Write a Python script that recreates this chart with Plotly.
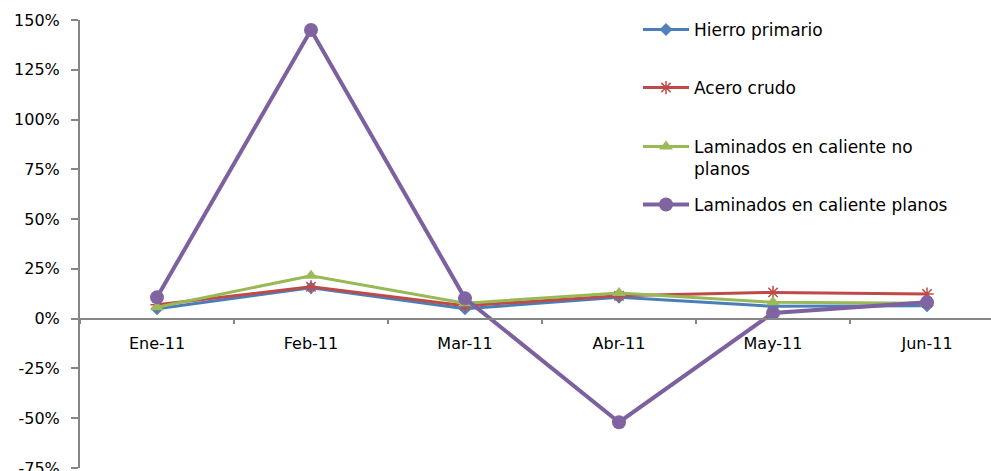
import plotly.graph_objects as go

categories = ["Ene-11", "Feb-11", "Mar-11", "Abr-11", "May-11", "Jun-11"]
hierro_primario = [0.05, 0.155, 0.05, 0.107, 0.062, 0.065]
acero_crudo = [0.07, 0.16, 0.065, 0.115, 0.132, 0.124]
lam_no_planos = [0.057, 0.216, 0.078, 0.129, 0.082, 0.077]
lam_planos = [0.107, 1.45, 0.102, -0.52, 0.029, 0.082]

series_names = ["Hierro primario", "Acero crudo", "Laminados en caliente no<br>planos",
                "Laminados en caliente planos"]

y_tick_values = [-0.75, -0.5, -0.25, 0, 0.25, 0.5, 0.75, 1.0, 1.25, 1.5]
y_tick_labels = ["-75%", "-50%", "-25%", "0%", "25%", "50%", "75%", "100%", "125%", "150%"]

W, H = 991, 471
L, R, T, B = 80, 0, 20, 3
plot_w = W - L - R
cat_w = 154.0

font = "DejaVu Sans"

fig = go.Figure()

fig.add_trace(go.Scatter(
    x=categories, y=hierro_primario, name=series_names[0], mode="lines+markers",
    line=dict(color="#4A7EBB", width=3),
    marker=dict(symbol="diamond", size=10, color="#4F81BD"),
    legend="legend"))
fig.add_trace(go.Scatter(
    x=categories, y=acero_crudo, name=series_names[1], mode="lines+markers",
    line=dict(color="#BE4B48", width=3),
    marker=dict(symbol="asterisk-open", size=11, color="#BE4B48",
                line=dict(color="#BE4B48", width=1.5)),
    legend="legend2"))
fig.add_trace(go.Scatter(
    x=categories, y=lam_no_planos, name=series_names[2], mode="lines+markers",
    line=dict(color="#98B954", width=3),
    marker=dict(symbol="triangle-up", size=12, color="#9BBB59"),
    legend="legend3"))
fig.add_trace(go.Scatter(
    x=categories, y=lam_planos, name=series_names[3], mode="lines+markers",
    line=dict(color="#7D60A0", width=4),
    marker=dict(symbol="circle", size=14, color="#8064A2"),
    legend="legend4"))

plot_h = H - T - B


def py(p):
    return (H - B - p) / plot_h


def px(p):
    return (p - L) / plot_w


leg_common = dict(font=dict(family=font, size=17, color="#000000"),
                  bgcolor="rgba(0,0,0,0)", borderwidth=0, xanchor="left",
                  x=px(638), itemwidth=46, visible=True)

fig.update_layout(
    width=W, height=H,
    margin=dict(l=L, r=R, t=T, b=B, autoexpand=False),
    paper_bgcolor="white", plot_bgcolor="white",
    showlegend=True,
    font=dict(family=font, size=15, color="#000000"),
    legend=dict(**leg_common, y=py(30), yanchor="middle"),
    legend2=dict(**leg_common, y=py(88), yanchor="middle"),
    legend3=dict(**leg_common, y=py(158), yanchor="middle", valign="top"),
    legend4=dict(**leg_common, y=py(205), yanchor="middle"),
    xaxis=dict(
        type="category",
        range=[-0.5, -0.5 + plot_w / cat_w],
        anchor="free", position=1 / 3,
        showline=True, linecolor="#868686", linewidth=1.5,
        ticks="outside", ticklen=5, tickcolor="#868686", tickwidth=1.5,
        tickson="boundaries",
        showgrid=False, zeroline=False, automargin=False,
        tickfont=dict(family=font, size=16, color="#000000"),
        ticklabelstandoff=10,
    ),
    yaxis=dict(
        range=[-0.75, 1.5],
        tickvals=y_tick_values, ticktext=y_tick_labels,
        showline=True, linecolor="#868686", linewidth=2,
        ticks="outside", ticklen=7, tickcolor="#868686", tickwidth=1.5,
        showgrid=False, zeroline=False, automargin=False,
        tickfont=dict(family=font, size=16, color="#000000"),
        ticklabelstandoff=8,
        ticklabeloverflow="allow",
    ),
)

fig.write_html("out.html")
